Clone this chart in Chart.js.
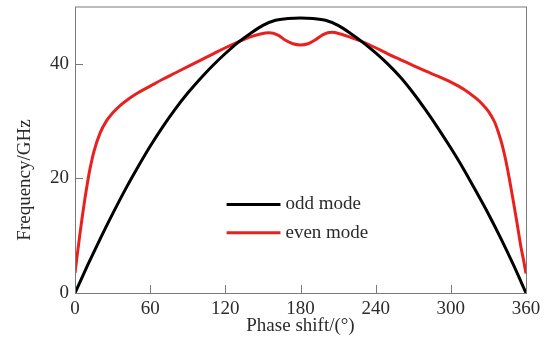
<!DOCTYPE html>
<html>
<head>
<meta charset="utf-8">
<script src="https://cdn.jsdelivr.net/npm/chart.js@4"></script>
<style>
html, body { margin: 0; padding: 0; background: #fff; }
#wrap { width: 549px; height: 344px; }
</style>
</head>
<body>
<div id="wrap"><canvas id="chart"></canvas></div>
<script>
// values
const phaseOdd = [0, 10, 20, 30, 40, 50, 60, 70, 80, 90, 100, 110, 120, 130, 140, 150, 160, 170, 180, 190, 200, 210, 220, 230, 240, 250, 260, 270, 280, 290, 300, 310, 320, 330, 340, 350, 360];
const freqOdd = [0, 4.8, 9.4, 13.8, 18.0, 21.9, 25.6, 29.0, 32.1, 34.9, 37.4, 39.7, 41.8, 43.7, 45.3, 46.7, 47.6, 47.9, 48.0, 47.9, 47.6, 46.7, 45.3, 43.7, 41.9, 39.9, 37.6, 34.9, 31.9, 28.7, 25.3, 21.7, 17.8, 13.8, 9.5, 4.9, 0];

const phaseEven = [0, 2, 4, 6, 8, 10, 12, 15, 20, 25, 30, 36, 45, 50, 60, 70, 80, 90, 100, 110, 120, 130, 140, 148, 155, 162, 168, 174, 180, 186, 192, 198, 205, 212, 220, 230, 240, 250, 260, 270, 280, 290, 300, 310, 320, 325, 330, 335, 338, 341, 344, 347, 350, 353, 356, 358, 360];
const freqEven = [3.5, 7.0, 10.4, 13.6, 16.6, 19.3, 21.7, 24.6, 27.9, 30.0, 31.4, 32.7, 34.2, 34.9, 36.1, 37.3, 38.4, 39.5, 40.6, 41.7, 42.8, 43.8, 44.7, 45.2, 45.4, 45.0, 44.1, 43.5, 43.3, 43.5, 44.2, 45.1, 45.5, 45.2, 44.6, 43.8, 42.8, 41.7, 40.7, 39.7, 38.7, 37.8, 36.8, 35.6, 34.0, 33.0, 31.7, 29.8, 28.0, 25.8, 23.0, 19.6, 15.9, 12.0, 8.0, 5.8, 3.4];

const xTicks = [0, 60, 120, 180, 240, 300, 360];
const yTicks = [0, 20, 40];
const seriesNames = ['odd mode', 'even mode'];
const seriesColors = ['#000000', '#e8211f'];

const FONT = 'Liberation Serif';
const TEXT = '#2b2b2b';
const FRAME = '#7a7a7a';

function pts(xs, ys) {
    return xs.map((x, i) => ({ x: x, y: ys[i] }));
}

// frame, inward tick marks, y title and in-plot legend
const decor = {
    id: 'decor',
    afterDraw(chart) {
        const { ctx, chartArea: a, scales } = chart;
        ctx.save();
        ctx.strokeStyle = FRAME;
        ctx.lineWidth = 1;
        ctx.strokeRect(a.left + 0.5, a.top + 0.5, a.right - a.left, a.bottom - a.top);

        ctx.beginPath();
        scales.x.ticks.forEach(t => {
            const px = Math.round(scales.x.getPixelForValue(t.value)) + 0.5;
            ctx.moveTo(px, a.bottom);
            ctx.lineTo(px, a.bottom - 8);
        });
        scales.y.ticks.forEach(t => {
            const py = Math.round(scales.y.getPixelForValue(t.value)) + 0.5;
            ctx.moveTo(a.left, py);
            ctx.lineTo(a.left + 8, py);
        });
        ctx.stroke();

        // y axis title
        ctx.fillStyle = TEXT;
        ctx.font = '19px "' + FONT + '"';
        ctx.textAlign = 'center';
        ctx.textBaseline = 'middle';
        ctx.translate(25, 180);
        ctx.rotate(-Math.PI / 2);
        ctx.fillText('Frequency/GHz', 0, 0);
        ctx.setTransform(1, 0, 0, 1, 0, 0);

        // legend
        const lx0 = scales.x.getPixelForValue(121);
        const lx1 = scales.x.getPixelForValue(164);
        const rows = [15.45, 10.5];
        ctx.textAlign = 'left';
        chart.data.datasets.forEach((ds, i) => {
            const py = scales.y.getPixelForValue(rows[i]);
            ctx.strokeStyle = ds.borderColor;
            ctx.lineWidth = 3;
            ctx.beginPath();
            ctx.moveTo(lx0, py);
            ctx.lineTo(lx1, py);
            ctx.stroke();
            ctx.fillStyle = TEXT;
            ctx.fillText(ds.label, lx1 + 5, py);
        });
        ctx.restore();
    }
};

const ctx = document.getElementById('chart');

new Chart(ctx, {
    type: 'line',
    data: {
        datasets: [{
            label: seriesNames[0],
            data: pts(phaseOdd, freqOdd),
            borderColor: seriesColors[0],
            borderWidth: 3,
            pointRadius: 0,
            cubicInterpolationMode: 'monotone'
        }, {
            label: seriesNames[1],
            data: pts(phaseEven, freqEven),
            borderColor: seriesColors[1],
            borderWidth: 3,
            pointRadius: 0,
            cubicInterpolationMode: 'monotone'
        }]
    },
    options: {
        responsive: true,
        maintainAspectRatio: false,
        animation: false,
        layout: {
            padding: { left: 0, right: 23, top: 6.5, bottom: 0 }
        },
        plugins: {
            legend: { display: false },
            tooltip: { enabled: false }
        },
        scales: {
            x: {
                type: 'linear',
                min: 0,
                max: 360,
                afterBuildTicks: s => { s.ticks = xTicks.map(v => ({ value: v })); },
                afterFit: s => { s.height = 51; s.paddingLeft = 0; s.paddingRight = 0; },
                grid: { display: false, drawTicks: false },
                border: { display: false },
                ticks: {
                    color: TEXT,
                    padding: 5,
                    maxRotation: 0,
                    font: { family: FONT, size: 19 }
                },
                title: {
                    display: true,
                    text: 'Phase shift/(°)',
                    color: TEXT,
                    padding: { top: 0, bottom: 7 },
                    font: { family: FONT, size: 19, lineHeight: 1.2 }
                }
            },
            y: {
                min: 0,
                max: 50,
                afterBuildTicks: s => { s.ticks = yTicks.map(v => ({ value: v })); },
                afterFit: s => { s.width = 75; s.paddingTop = 0; s.paddingBottom = 0; },
                grid: { display: false, drawTicks: false },
                border: { display: false },
                ticks: {
                    color: TEXT,
                    padding: 6,
                    font: { family: FONT, size: 19 }
                }
            }
        }
    },
    plugins: [decor]
});
</script>
</body>
</html>
